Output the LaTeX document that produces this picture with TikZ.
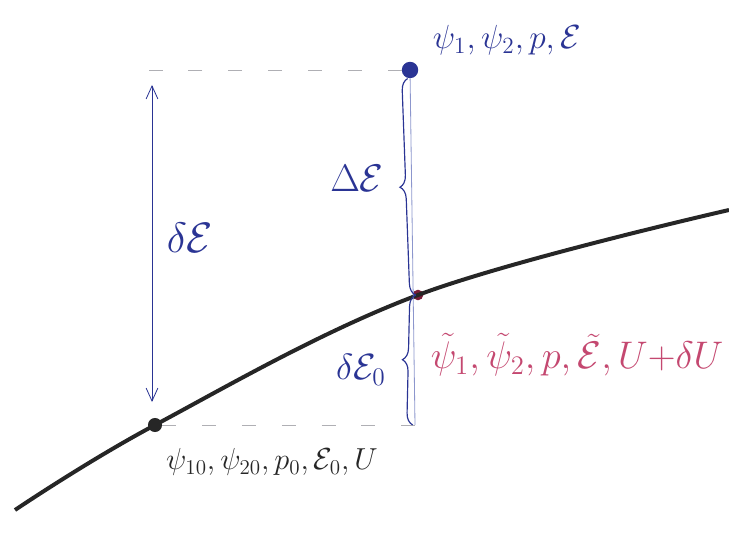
\documentclass[tikz,border=0pt]{standalone}
\usepackage{amsmath,xcolor}
\definecolor{inkblue}{RGB}{42,52,148}
\definecolor{inkred}{RGB}{196,72,112}
\definecolor{inkdot}{RGB}{120,28,56}
\definecolor{inkgray}{RGB}{175,175,180}
\definecolor{inkthin}{RGB}{140,150,205}
\usepackage{tikz}
\usetikzlibrary{arrows.meta,positioning,decorations.pathreplacing}

\tikzset{
  state/.style={circle,inner sep=0pt,minimum size=#1},
  guide/.style={inkgray,dash pattern=on 12pt off 22pt,line width=0.8pt},
  stem/.style={inkthin,line width=0.7pt},
  bracket/.style={inkblue,line width=1pt,decorate,decoration={brace,amplitude=10pt,raise=2pt}},
  lab/.style={inner sep=1pt,scale=#1},
}

\begin{document}
\begin{tikzpicture}[x=0.03cm,y=-0.03cm,font=\LARGE]
  \useasboundingbox (0,0) rectangle (729,539);
  % the three states
  \node[state=14pt,fill=inkblue] (ptop) at (410,70) {};
  \node[state=9pt,fill=inkdot] (pmid) at (418,295) {};
  \node[state=12pt,fill=black!85] (plow) at (155,425) {};
  \coordinate (corner) at (415,425);
  \coordinate (tleft) at (125,70);
  \coordinate (atop) at (152,85);
  \coordinate (abot) at (152,402);
  % energy curve
  \draw[black!85,line width=3.4pt] plot[smooth,tension=0.6] coordinates {(15,510) (plow) (pmid) (729,210)};
  % dashed guides
  \draw[guide] (ptop) -- (tleft);
  \draw[guide] (plow) -- (corner);
  % vertical lines
  \draw[stem] (ptop) -- (corner);
  \draw[inkblue,line width=0.7pt,{Straight Barb[length=11pt,width=10pt]}-{Straight Barb[length=11pt,width=10pt]}] (abot) -- (atop);
  % braces
  \draw[bracket] (pmid.center) -- (ptop.south);
  \draw[bracket] (corner) -- (pmid.center);
  % labels
  \node[lab=1.65,inkblue] (ltop) at (507,40) {$\psi_1,\psi_2,p,\mathcal{E}$};
  \node[lab=2.1,inkblue] (ldE) at (190,238) {$\delta\mathcal{E}$};
  \node[lab=1.9,inkblue] (lDE) at (357,178) {$\Delta\mathcal{E}$};
  \node[lab=1.8,inkblue] (ldE0) at (361,370) {$\delta\mathcal{E}_0$};
  \node[lab=1.9,inkred] (lmid) at (577,355) {$\tilde\psi_1,\tilde\psi_2,p,\tilde{\mathcal{E}},U{+}\delta U$};
  \node[lab=1.5,black!85] (llow) at (272,462) {$\psi_{10},\psi_{20},p_0,\mathcal{E}_0,U$};
\end{tikzpicture}
\end{document}
